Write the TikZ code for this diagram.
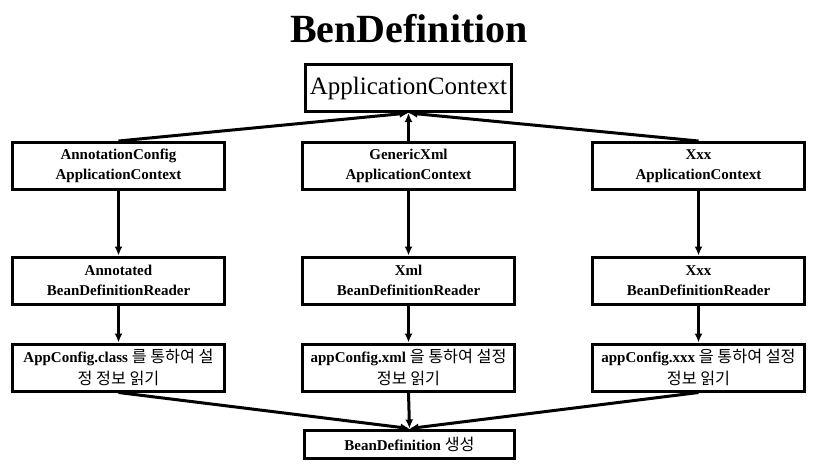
\documentclass[tikz,border=0pt]{standalone}
\usepackage{fontspec}
\setmainfont{Liberation Serif}
\newfontfamily\kr[Scale=1.08]{Noto Sans CJK KR}
\usetikzlibrary{arrows.meta}
\begin{document}
\begin{tikzpicture}[x=1pt,y=-1pt,
  box/.style={draw=black,line width=3pt,minimum width=212pt,minimum height=47pt,inner sep=1pt,align=center,font=\fontsize{15}{20}\selectfont\bfseries},
  conn/.style={line width=3pt,-{Latex[length=9pt,width=8pt]}}]
\useasboundingbox (0,0) rectangle (819,467);
\node[font=\fontsize{40}{42}\selectfont\bfseries] (title) at (409,29) {BenDefinition};
\node[draw=black,line width=3pt,minimum width=206pt,minimum height=47pt,inner sep=2pt,font=\fontsize{25}{27}\selectfont] (top) at (408.5,88) {ApplicationContext};
\node[box] (c1) at (118.5,166) {AnnotationConfig\\ApplicationContext};
\node[box] (c2) at (408.5,166) {GenericXml\\ApplicationContext};
\node[box] (c3) at (698.5,166) {Xxx\\ApplicationContext};
\node[box] (r1) at (118.5,280.5) {Annotated\\BeanDefinitionReader};
\node[box] (r2) at (408.5,280.5) {Xml\\BeanDefinitionReader};
\node[box] (r3) at (698.5,280.5) {Xxx\\BeanDefinitionReader};
\node[box,font=\fontsize{15}{22}\selectfont\bfseries] (f1) at (118.5,367.5) {AppConfig.class {\kr\mdseries 를 통하여 설}\\{\kr\mdseries 정 정보 읽기}};
\node[box,font=\fontsize{15}{22}\selectfont\bfseries] (f2) at (408.5,367.5) {appConfig.xml {\kr\mdseries 을 통하여 설정}\\{\kr\mdseries 정보 읽기}};
\node[box,font=\fontsize{15}{22}\selectfont\bfseries] (f3) at (698.5,367.5) {appConfig.xxx {\kr\mdseries 을 통하여 설정}\\{\kr\mdseries 정보 읽기}};
\node[box,minimum width=210pt,minimum height=28pt] (bd) at (409.5,444) {BeanDefinition {\kr\mdseries 생성}};
\draw[conn] (c1.north) -- (top.south);
\draw[conn] (c2.north) -- (top.south);
\draw[conn] (c3.north) -- (top.south);
\draw[conn] (c1) -- (r1);
\draw[conn] (c2) -- (r2);
\draw[conn] (c3) -- (r3);
\draw[conn] (r1) -- (f1);
\draw[conn] (r2) -- (f2);
\draw[conn] (r3) -- (f3);
\draw[conn] (f1.south) -- (bd.north);
\draw[conn] (f2.south) -- (bd.north);
\draw[conn] (f3.south) -- (bd.north);
\end{tikzpicture}
\end{document}
